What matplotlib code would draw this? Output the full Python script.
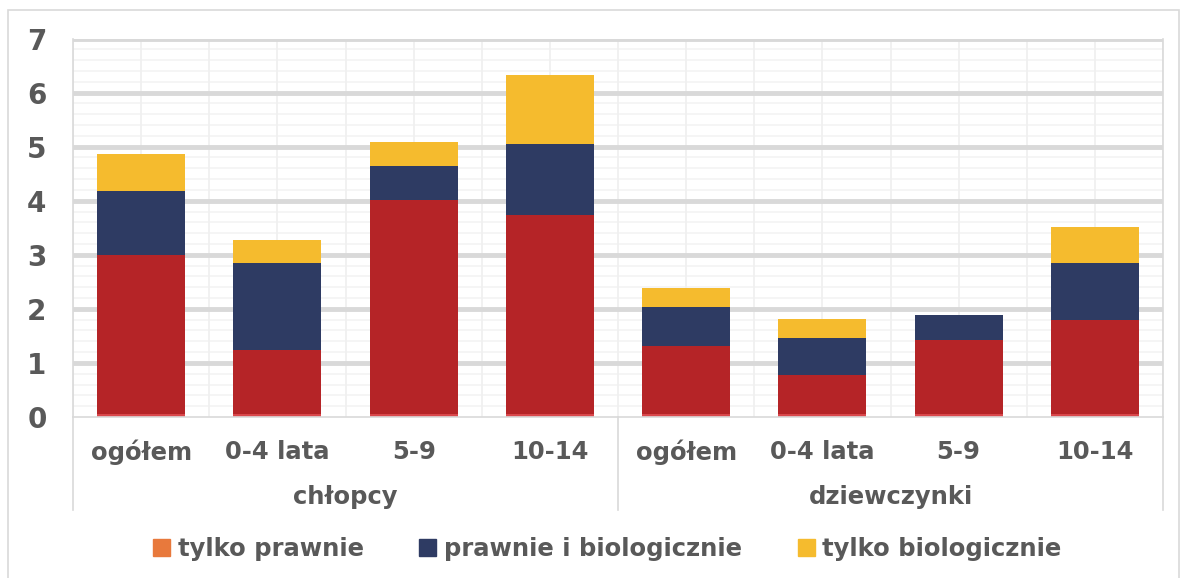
import matplotlib
matplotlib.use("Agg")
import matplotlib.pyplot as plt
from matplotlib.patches import Rectangle, Patch
from matplotlib.lines import Line2D
import numpy as np

plt.rcParams['font.family'] = ['DejaVu Sans']

groups = ["chłopcy", "dziewczynki"]
categories = ["ogółem", "0-4 lata", "5-9", "10-14", "ogółem", "0-4 lata", "5-9", "10-14"]
series_names = ["tylko prawnie", "prawnie i biologicznie", "tylko biologicznie"]
# tiny bottom segment (tylko prawnie)
tylko_prawnie = [0.05, 0.05, 0.05, 0.05, 0.05, 0.05, 0.05, 0.05]
# main red segment (unlabelled in legend)
czerwony = [2.94, 1.19, 3.96, 3.69, 1.27, 0.72, 1.37, 1.74]
prawnie_i_biol = [1.19, 1.61, 0.63, 1.31, 0.71, 0.70, 0.46, 1.05]
tylko_biol = [0.69, 0.42, 0.45, 1.28, 0.35, 0.35, 0.0, 0.68]
yticks = [0, 1, 2, 3, 4, 5, 6, 7]

c_orange = '#E8793C'
c_strip = '#D9474B'
c_red = '#B52427'
c_navy = '#2E3B63'
c_yellow = '#F5BB2E'
txt = '#595959'

W, H = 1186, 578
fig = plt.figure(figsize=(W / 100, H / 100), dpi=100)
ax = fig.add_axes([73 / W, 1 - 417 / H, (1163 - 73) / W, (417 - 38.5) / H])

n = len(categories)
x = np.arange(n)
ax.set_xlim(-0.5, n - 0.5)
ax.set_ylim(0, 7)

# grid
for v in np.arange(0, 7.001, 0.2):
    if abs(v - round(v)) < 1e-6:
        continue
    ax.axhline(v, color='#F2F2F2', lw=1.1, zorder=0)
for xv in np.arange(-0.5, n, 0.5):
    ax.axvline(xv, color='#EFEFEF', lw=1.2, zorder=0)
for v in yticks[1:]:
    ax.axhline(v, color='#D9D9D9', lw=3.5, zorder=0.5)

bw = 0.645
b = np.zeros(n)
ax.bar(x, tylko_prawnie, bw, bottom=b, color=c_strip, zorder=2)
b += np.array(tylko_prawnie)
ax.bar(x, czerwony, bw, bottom=b, color=c_red, zorder=2)
b += np.array(czerwony)
ax.bar(x, prawnie_i_biol, bw, bottom=b, color=c_navy, zorder=2)
b += np.array(prawnie_i_biol)
ax.bar(x, tylko_biol, bw, bottom=b, color=c_yellow, zorder=2)

ax.spines['top'].set_visible(False)
for s in ['left', 'right', 'bottom']:
    ax.spines[s].set_color('#D9D9D9')
    ax.spines[s].set_linewidth(1.2)

ax.set_yticks(yticks)
ax.set_yticklabels([str(t) for t in yticks], fontsize=20, fontweight='bold', color=txt)
ax.tick_params(axis='y', length=0, pad=19)
ax.set_xticks([])

# category labels
ytr = ax.get_xaxis_transform()
axh_px = 417 - 38.5
def ypx(py):
    return (417 - py) / axh_px
for i, c in enumerate(categories):
    ax.text(x[i], ypx(452), c, transform=ytr, ha='center', va='center',
            fontsize=17.5, fontweight='bold', color=txt, clip_on=False)
for g, gname in enumerate(groups):
    ax.text(1.5 + 4 * g, ypx(497), gname, transform=ytr, ha='center', va='center',
            fontsize=17.5, fontweight='bold', color=txt, clip_on=False)
for xv in [-0.5, 3.5, 7.5]:
    ax.add_line(Line2D([xv, xv], [0, ypx(510)], transform=ytr, color='#D9D9D9',
                       lw=1.2, clip_on=False))

# outer border
fig.patches.append(Rectangle((8 / W, -0.01), (1179 - 8) / W, 1 - 10 / H + 0.01,
                             transform=fig.transFigure, fill=False,
                             edgecolor='#D9D9D9', lw=1.2))

handles = [Patch(color=c_orange), Patch(color=c_navy), Patch(color=c_yellow)]
leg = fig.legend(handles, series_names, loc='center', bbox_to_anchor=(0.512, 1 - 549 / H),
                 ncol=3, frameon=False, handlelength=0.7, handleheight=0.7,
                 handletextpad=0.3, columnspacing=2.3,
                 prop={'size': 17.5, 'weight': 'bold'})
for t in leg.get_texts():
    t.set_color(txt)

fig.savefig('out.png', dpi=100)
